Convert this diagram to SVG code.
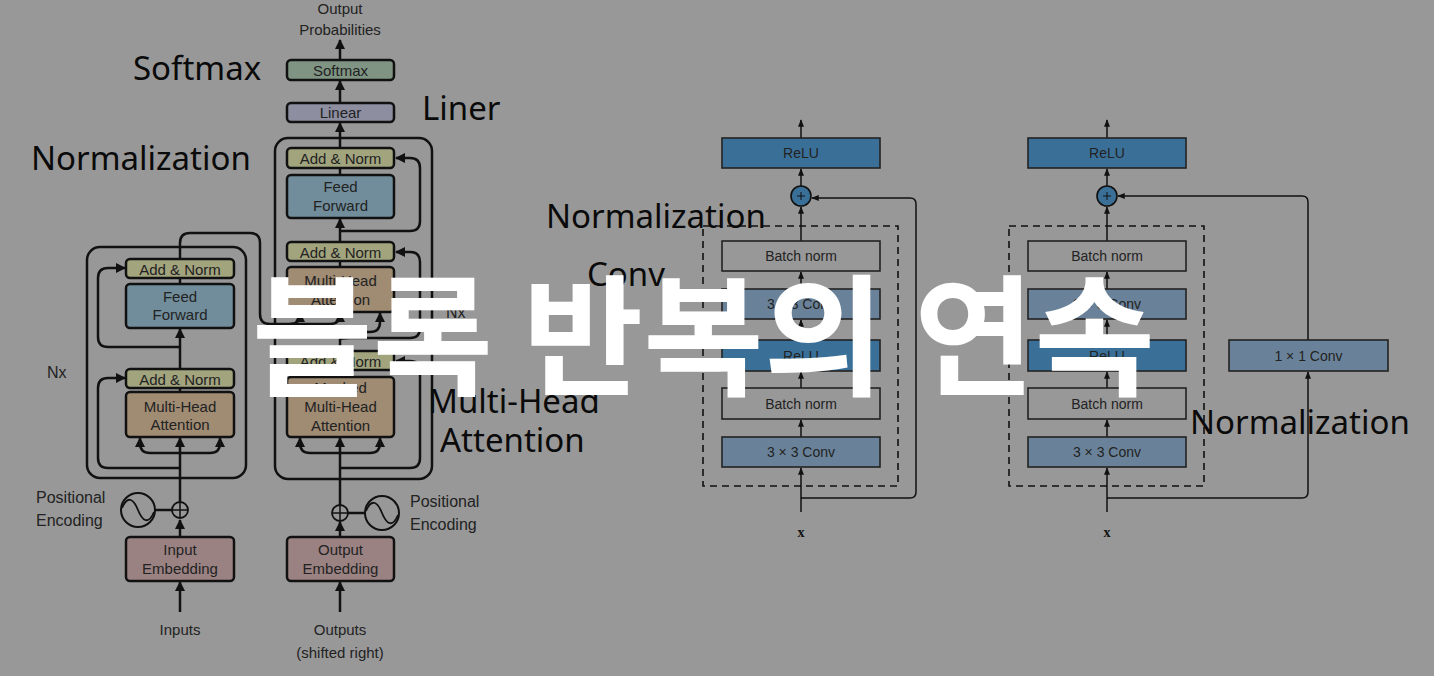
<svg xmlns="http://www.w3.org/2000/svg" width="1434" height="676" viewBox="0 0 1434 676">
<defs>
<marker id="ah" viewBox="0 0 10 10" refX="9" refY="5" markerWidth="4" markerHeight="4" orient="auto-start-reverse"><path d="M0,0 L10,5 L0,10 Z" fill="#111"/></marker>
<marker id="ah2" viewBox="0 0 10 10" refX="9" refY="5" markerWidth="5" markerHeight="5" orient="auto-start-reverse"><path d="M0,1 L10,5 L0,9 Z" fill="#111"/></marker>
<style>
.tb{stroke:#111;stroke-width:2.5}
.tt{font-family:"Liberation Sans",Arial,sans-serif;font-size:15px;fill:#222;text-anchor:middle;dominant-baseline:central}
.tl{font-family:"Liberation Sans",Arial,sans-serif;font-size:16px;fill:#222}
.rb{stroke:#222;stroke-width:1.6}
.rt{font-family:"Liberation Sans",Arial,sans-serif;font-size:14px;fill:#222;text-anchor:middle;dominant-baseline:central}
.w{fill:none;stroke:#111;stroke-width:2.5;marker-end:url(#ah)}
.wn{fill:none;stroke:#111;stroke-width:2.5}
.r{fill:none;stroke:#111;stroke-width:1.5;marker-end:url(#ah2)}
.rn{fill:none;stroke:#111;stroke-width:1.5}
.ov{font-family:"Noto Sans","Liberation Sans",sans-serif;font-size:33px;fill:#0a0a0a}
.big{font-family:"Noto Sans CJK KR","Noto Sans",sans-serif;font-weight:bold;font-size:131px;fill:#fff}
</style>
</defs>
<rect width="1434" height="676" fill="#989898"/>

<!-- Transformer outer boxes -->
<g id="encoder-stack"><rect x="87" y="247" width="159" height="231" rx="13" fill="none" class="tb"/></g>
<g id="decoder-stack"><rect x="275" y="138" width="157" height="341" rx="13" fill="none" class="tb"/></g>

<!-- connectors -->
<g id="connectors">
<!-- encoder -->
<path class="w" d="M180,612 V582"/>
<path class="w" d="M180,537 V520"/>
<path class="wn" d="M155,510 H172"/>
<path class="w" d="M180,502 V438"/>
<path class="w" d="M180,453 H150 Q140,453 140,443 V438"/>
<path class="w" d="M180,453 H210 Q220,453 220,443 V438"/>
<path class="w" d="M180,468 H108 Q98,468 98,458 V388 Q98,378 108,378 H125"/>
<path class="wn" d="M180,392 V388"/>
<path class="w" d="M180,369 V329"/>
<path class="w" d="M180,347 H108 Q98,347 98,337 V278 Q98,268 108,268 H125"/>
<path class="wn" d="M180,284 V278"/>
<path class="wn" d="M180,259 V243 Q180,233 190,233 H250 Q260,233 260,243 V314 Q260,324 270,324 H330"/>
<path class="w" d="M290,324 Q300,324 300,314 V313"/>
<path class="w" d="M330,324 Q340,324 340,314 V313"/>
<!-- decoder -->
<path class="w" d="M340,612 V582"/>
<path class="w" d="M340,537 V522"/>
<path class="wn" d="M348,513 H365"/>
<path class="w" d="M340,505 V438"/>
<path class="w" d="M340,453 H310 Q300,453 300,443 V438"/>
<path class="w" d="M340,453 H370 Q380,453 380,443 V438"/>
<path class="w" d="M340,468 H410 Q420,468 420,458 V371 Q420,361 410,361 H396"/>
<path class="wn" d="M340,377 V370"/>
<path class="wn" d="M340,351 V340 Q340,332 350,332 H370"/>
<path class="w" d="M370,332 Q380,332 380,322 V313"/>
<path class="w" d="M340,340 Q340,338 350,338 H410 Q420,338 420,328 V262 Q420,252 410,252 H396"/>
<path class="wn" d="M340,267 V261"/>
<path class="w" d="M340,242 V219"/>
<path class="w" d="M340,231 H410 Q420,231 420,221 V168 Q420,158 410,158 H396"/>
<path class="wn" d="M340,175 V168"/>
<path class="w" d="M340,148 V123"/>
<path class="w" d="M340,103 V81"/>
<path class="w" d="M340,60 V40"/>
<!-- resnet block 1 -->
<path class="r" d="M801,512 V468"/>
<path class="r" d="M801,437 V420"/>
<path class="r" d="M801,388 V372"/>
<path class="r" d="M801,340 V320"/>
<path class="r" d="M801,289 V272"/>
<path class="r" d="M801,241 V207"/>
<path class="r" d="M801,186 V169"/>
<path class="r" d="M801,138 V120"/>
<path class="r" d="M801,498 H910 Q916,498 916,492 V204 Q916,198 910,198 H812"/>
<!-- resnet block 2 -->
<path class="r" d="M1107,512 V468"/>
<path class="r" d="M1107,437 V420"/>
<path class="r" d="M1107,388 V372"/>
<path class="r" d="M1107,340 V320"/>
<path class="r" d="M1107,289 V272"/>
<path class="r" d="M1107,241 V207"/>
<path class="r" d="M1107,186 V169"/>
<path class="r" d="M1107,138 V120"/>
<path class="r" d="M1107,498 H1302 Q1308,498 1308,492 V372"/>
<path class="r" d="M1308,340 V202 Q1308,196 1302,196 H1118"/>
</g>

<!-- Transformer nodes -->
<g id="output-prob"><text class="tt" x="340" y="8">Output</text><text class="tt" x="340" y="29">Probabilities</text></g>
<g id="softmax"><rect x="287" y="60" width="107" height="20" rx="4" fill="#7f9482" class="tb"/><text class="tt" x="340.5" y="70">Softmax</text></g>
<g id="linear"><rect x="287" y="103" width="107" height="19" rx="4" fill="#8d8ea0" class="tb"/><text class="tt" x="340.5" y="112.5">Linear</text></g>
<g id="dec-addnorm1"><rect x="287" y="148" width="107" height="20" rx="4" fill="#a2a47e" class="tb"/><text class="tt" x="340.5" y="158">Add &amp; Norm</text></g>
<g id="dec-ff"><rect x="287" y="175" width="107" height="43" rx="4" fill="#718d9b" class="tb"/><text class="tt" x="340.5" y="186">Feed</text><text class="tt" x="340.5" y="205">Forward</text></g>
<g id="dec-addnorm2"><rect x="287" y="242" width="107" height="19" rx="4" fill="#a2a47e" class="tb"/><text class="tt" x="340.5" y="252">Add &amp; Norm</text></g>
<g id="dec-mha"><rect x="287" y="267" width="107" height="45" rx="4" fill="#a08b73" class="tb"/><text class="tt" x="340.5" y="280">Multi-Head</text><text class="tt" x="340.5" y="299">Attention</text></g>
<g id="dec-addnorm3"><rect x="287" y="351" width="107" height="19" rx="4" fill="#a2a47e" class="tb"/><text class="tt" x="340.5" y="361">Add &amp; Norm</text></g>
<g id="dec-masked"><rect x="287" y="377" width="107" height="60" rx="4" fill="#a08b73" class="tb"/><text class="tt" x="340.5" y="387">Masked</text><text class="tt" x="340.5" y="406">Multi-Head</text><text class="tt" x="340.5" y="425">Attention</text></g>
<g id="dec-nx"><text class="tl" x="446" y="318">Nx</text></g>

<g id="enc-addnorm1"><rect x="126" y="259" width="108" height="19" rx="4" fill="#a2a47e" class="tb"/><text class="tt" x="180" y="269">Add &amp; Norm</text></g>
<g id="enc-ff"><rect x="126" y="284" width="108" height="44" rx="4" fill="#718d9b" class="tb"/><text class="tt" x="180" y="296">Feed</text><text class="tt" x="180" y="314">Forward</text></g>
<g id="enc-addnorm2"><rect x="126" y="369" width="108" height="19" rx="4" fill="#a2a47e" class="tb"/><text class="tt" x="180" y="379">Add &amp; Norm</text></g>
<g id="enc-mha"><rect x="126" y="392" width="108" height="45" rx="4" fill="#a08b73" class="tb"/><text class="tt" x="180" y="406">Multi-Head</text><text class="tt" x="180" y="424">Attention</text></g>
<g id="enc-nx"><text class="tl" x="47" y="378">Nx</text></g>

<g id="enc-plus"><circle cx="180" cy="510" r="8" fill="none" stroke="#111" stroke-width="1.8"/><path d="M172,510 H188 M180,502 V518" stroke="#111" stroke-width="1.5"/></g>
<g id="enc-pe"><circle cx="138" cy="510" r="17" fill="none" stroke="#111" stroke-width="2"/><path d="M122,508 C128,494 134,500 138,510 C142,520 148,526 154,512" fill="none" stroke="#111" stroke-width="1.8"/><text class="tl" x="36" y="503">Positional</text><text class="tl" x="36" y="526">Encoding</text></g>
<g id="enc-embed"><rect x="126" y="537" width="108" height="44" rx="4" fill="#9b8282" class="tb"/><text class="tt" x="180" y="549">Input</text><text class="tt" x="180" y="568">Embedding</text></g>
<g id="inputs"><text class="tt" x="180" y="629">Inputs</text></g>

<g id="dec-plus"><circle cx="340" cy="513" r="8" fill="none" stroke="#111" stroke-width="1.8"/><path d="M332,513 H348 M340,505 V521" stroke="#111" stroke-width="1.5"/></g>
<g id="dec-pe"><circle cx="382" cy="513" r="17" fill="none" stroke="#111" stroke-width="2"/><path d="M366,511 C372,497 378,503 382,513 C386,523 392,529 398,515" fill="none" stroke="#111" stroke-width="1.8"/><text class="tl" x="410" y="507">Positional</text><text class="tl" x="410" y="530">Encoding</text></g>
<g id="dec-embed"><rect x="287" y="537" width="107" height="44" rx="4" fill="#9b8282" class="tb"/><text class="tt" x="340.5" y="549">Output</text><text class="tt" x="340.5" y="568">Embedding</text></g>
<g id="outputs"><text class="tt" x="340" y="629">Outputs</text><text class="tt" x="340" y="652">(shifted right)</text></g>

<!-- ResNet block 1 -->
<g id="rb1-dashed"><rect x="703" y="226" width="195" height="260" fill="none" stroke="#111" stroke-width="1.6" stroke-dasharray="7,5"/></g>
<g id="rb1-relu-out"><rect x="722" y="138" width="158" height="30" fill="#3a7098" class="rb"/><text class="rt" x="801" y="153">ReLU</text></g>
<g id="rb1-plus"><circle cx="801" cy="196" r="10" fill="#3a7098" stroke="#111" stroke-width="1.6"/><path d="M797,196 H805 M801,192 V200" stroke="#111" stroke-width="1"/></g>
<g id="rb1-bn2"><rect x="722" y="241" width="158" height="30" fill="none" class="rb"/><text class="rt" x="801" y="256">Batch norm</text></g>
<g id="rb1-conv2"><rect x="722" y="289" width="158" height="30" fill="#6a8299" class="rb"/><text class="rt" x="801" y="304">3 × 3 Conv</text></g>
<g id="rb1-relu"><rect x="722" y="340" width="158" height="31" fill="#3a7098" class="rb"/><text class="rt" x="801" y="355.5">ReLU</text></g>
<g id="rb1-bn1"><rect x="722" y="388" width="158" height="31" fill="none" class="rb"/><text class="rt" x="801" y="403.5">Batch norm</text></g>
<g id="rb1-conv1"><rect x="722" y="437" width="158" height="30" fill="#6a8299" class="rb"/><text class="rt" x="801" y="452">3 × 3 Conv</text></g>
<g id="rb1-x"><text x="801" y="537" text-anchor="middle" font-family="Liberation Serif,serif" font-weight="bold" font-size="14" fill="#111">x</text></g>

<!-- ResNet block 2 -->
<g id="rb2-dashed"><rect x="1009" y="226" width="195" height="260" fill="none" stroke="#111" stroke-width="1.6" stroke-dasharray="7,5"/></g>
<g id="rb2-relu-out"><rect x="1028" y="138" width="158" height="30" fill="#3a7098" class="rb"/><text class="rt" x="1107" y="153">ReLU</text></g>
<g id="rb2-plus"><circle cx="1107" cy="196" r="10" fill="#3a7098" stroke="#111" stroke-width="1.6"/><path d="M1103,196 H1111 M1107,192 V200" stroke="#111" stroke-width="1"/></g>
<g id="rb2-bn2"><rect x="1028" y="241" width="158" height="30" fill="none" class="rb"/><text class="rt" x="1107" y="256">Batch norm</text></g>
<g id="rb2-conv2"><rect x="1028" y="289" width="158" height="30" fill="#6a8299" class="rb"/><text class="rt" x="1107" y="304">3 × 3 Conv</text></g>
<g id="rb2-relu"><rect x="1028" y="340" width="158" height="31" fill="#3a7098" class="rb"/><text class="rt" x="1107" y="355.5">ReLU</text></g>
<g id="rb2-bn1"><rect x="1028" y="388" width="158" height="31" fill="none" class="rb"/><text class="rt" x="1107" y="403.5">Batch norm</text></g>
<g id="rb2-conv1"><rect x="1028" y="437" width="158" height="30" fill="#6a8299" class="rb"/><text class="rt" x="1107" y="452">3 × 3 Conv</text></g>
<g id="rb2-conv1x1"><rect x="1229" y="340" width="159" height="31" fill="#6a8299" class="rb"/><text class="rt" x="1308.5" y="355.5">1 × 1 Conv</text></g>
<g id="rb2-x"><text x="1107" y="537" text-anchor="middle" font-family="Liberation Serif,serif" font-weight="bold" font-size="14" fill="#111">x</text></g>

<!-- overlay labels -->
<g id="labels">
<text class="ov" x="133" y="80">Softmax</text>
<text class="ov" x="422" y="120">Liner</text>
<text class="ov" x="31" y="170">Normalization</text>
<text class="ov" x="546" y="228">Normalization</text>
<text class="ov" x="587" y="286">Conv</text>
<text class="ov" x="428" y="413">Multi-Head</text>
<text class="ov" x="440" y="452">Attention</text>
<text class="ov" x="1190" y="434">Normalization</text>
</g>
<g id="title"><text class="big" x="252" y="385">블록 반복의 연속</text></g>
</svg>
